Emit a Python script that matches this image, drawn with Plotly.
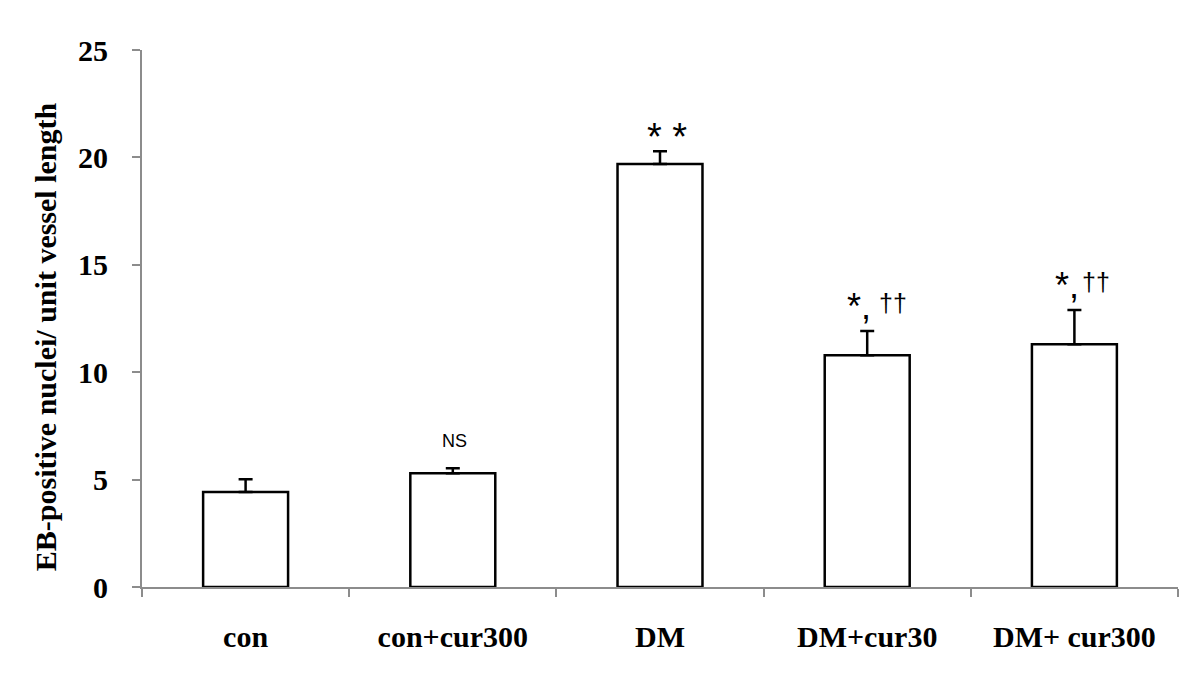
import plotly.graph_objects as go

categories = ["con", "con+cur300", "DM", "DM+cur30", "DM+ cur300"]
means = [4.42, 5.29, 19.69, 10.79, 11.30]
errors = [0.60, 0.24, 0.60, 1.13, 1.60]
y_ticks = [0, 5, 10, 15, 20, 25]
y_title = "EB-positive nuclei/ unit vessel length"

# significance marks: (category, label)
sig_ns = ("con+cur300", "NS")
sig_dm = ("DM", "* *")
sig_star = [("DM+cur30", "*,"), ("DM+ cur300", "*,")]
sig_dag = [("DM+cur30", "††"), ("DM+ cur300", "††")]

serif = "Liberation Serif"
sans = "Liberation Sans"

fig = go.Figure()
fig.add_trace(go.Bar(
    x=categories, y=means, width=0.41,
    marker=dict(color="white", line=dict(color="black", width=2.5)),
    error_y=dict(type="data", symmetric=False, array=errors,
                 arrayminus=[0] * len(errors),
                 color="black", thickness=2.5, width=7),
))

top = {c: m + e for c, m, e in zip(categories, means, errors)}

ann = []
ann.append(dict(x=sig_ns[0], y=top[sig_ns[0]] + 1.25, text=sig_ns[1], showarrow=False,
                xshift=2, font=dict(family=sans, size=18, color="black")))
ann.append(dict(x=sig_dm[0], y=top[sig_dm[0]] + 0.65, text=sig_dm[1], showarrow=False,
                xshift=7, font=dict(family=sans, size=38, color="black")))
for (c, t), xs in zip(sig_star, [-8, -7]):
    ann.append(dict(x=c, y=top[c] + 1.12, text=t, showarrow=False, xshift=xs,
                    font=dict(family=sans, size=36, color="black")))
for (c, t), xs in zip(sig_dag, [26, 22]):
    ann.append(dict(x=c, y=top[c] + 1.3, text=t, showarrow=False, xshift=xs,
                    font=dict(family=sans, size=25, color="black")))
ann.append(dict(xref="paper", yref="paper", x=-0.0935, y=0.4655, text=y_title,
                textangle=-90, showarrow=False, xanchor="center", yanchor="middle",
                font=dict(family=serif, size=30, color="black", weight="bold")))

fig.update_layout(
    width=1200, height=700,
    margin=dict(l=134, r=30, t=42, b=121),
    paper_bgcolor="white", plot_bgcolor="white",
    showlegend=False,
    annotations=ann,
)
fig.update_xaxes(
    showline=True, linecolor="#8c8c8c", linewidth=2,
    ticks="outside", tickson="boundaries", ticklen=8, tickcolor="#8c8c8c", tickwidth=2,
    tickfont=dict(family=serif, size=30, color="black", weight="bold"),
    ticklabelstandoff=22, showgrid=False,
)
fig.update_yaxes(
    range=[0, 25], tickvals=y_ticks, showline=True, linecolor="#8c8c8c", linewidth=2,
    ticks="outside", ticklen=8, tickcolor="#8c8c8c", tickwidth=2,
    tickfont=dict(family=serif, size=30, color="black", weight="bold"),
    ticklabelstandoff=18, showgrid=False, zeroline=False,
)

fig.write_html("out.html")
